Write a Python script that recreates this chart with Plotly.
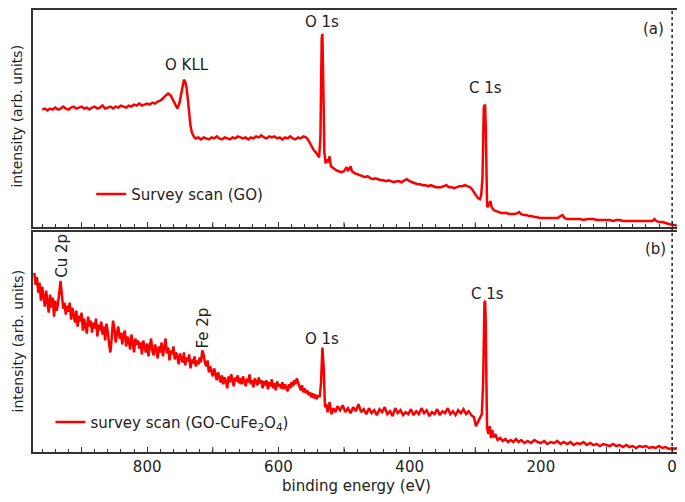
import plotly.graph_objects as go

# ---------------- data ----------------
# (a) Survey scan (GO): binding energy (eV) and intensity (arb. units)
go_energy = [960, 956, 952, 948, 944, 940, 936, 932, 928, 924, 920, 916, 912, 908, 904, 900,
             896, 892, 888, 884, 880, 876, 872, 868, 864, 860, 856, 852, 848, 844, 840, 836,
             832, 828, 824, 820, 816, 812, 808, 804, 800, 796, 792, 788, 784, 780, 776, 772,
             768, 764, 760, 757, 754, 751, 748, 746, 744, 742, 740, 738, 736, 734, 732, 729,
             726, 722, 718, 714, 710, 706, 702, 698, 694, 690, 686, 682, 678, 674, 670, 666,
             662, 658, 654, 650, 646, 642, 638, 634, 630, 626, 622, 618, 614, 610, 606, 602,
             598, 594, 590, 586, 582, 578, 574, 570, 566, 562, 558, 555, 552, 549, 546, 543,
             540, 538, 536, 535, 534, 533, 532, 531, 530, 528, 526, 524, 522, 520, 518, 515,
             512, 508, 504, 500, 496, 494, 492, 490, 488, 484, 480, 476, 472, 468, 464, 460,
             456, 452, 448, 444, 440, 436, 432, 428, 424, 420, 416, 412, 408, 404, 400, 396,
             392, 388, 384, 380, 376, 372, 368, 364, 360, 356, 352, 348, 344, 340, 336, 332,
             328, 324, 320, 316, 312, 308, 305, 302, 299, 296, 293, 291, 289, 288, 287, 286,
             285, 284, 283, 282, 281, 279, 277, 275, 272, 268, 264, 260, 256, 252, 248, 244,
             240, 236, 233, 230, 226, 222, 218, 214, 210, 206, 202, 198, 194, 190, 186, 182,
             178, 174, 170, 167, 164, 160, 155, 150, 145, 140, 135, 130, 125, 120, 115, 110,
             105, 100, 95, 90, 85, 80, 75, 70, 65, 60, 55, 50, 45, 40, 35, 30,
             27, 24, 20, 15, 10, 5, 0, -4, -7]
go_intensity = [118, 119, 117, 119, 118, 120, 118, 119, 121, 119, 118, 120, 121, 119, 120, 121,
                119, 120, 118, 120, 121, 119, 120, 122, 119, 120, 121, 119, 121, 120, 122, 121,
                120, 122, 121, 123, 122, 124, 122, 123, 124, 123, 125, 124, 126, 127, 129, 132,
                134, 132, 127, 122, 119, 124, 136, 144, 148, 146, 140, 128, 114, 102, 95, 91,
                89, 90, 88, 90, 89, 88, 90, 89, 91, 89, 88, 90, 89, 88, 90, 89,
                91, 90, 89, 90, 88, 90, 89, 91, 90, 92, 90, 89, 91, 90, 91, 89,
                90, 88, 90, 89, 91, 89, 88, 90, 89, 91, 90, 88, 84, 80, 77, 75,
                72, 70, 90, 150, 190, 194, 170, 120, 75, 64, 68, 65, 71, 61, 60, 58,
                57, 56, 55, 56, 60, 57, 58, 61, 56, 54, 53, 52, 51, 50, 51, 49,
                48, 49, 48, 47, 47, 46, 47, 46, 45, 46, 46, 45, 47, 48, 46, 45,
                44, 43, 43, 42, 42, 41, 42, 41, 40, 40, 40, 41, 42, 40, 40, 39,
                40, 41, 41, 42, 41, 40, 38, 35, 32, 29, 28, 32, 50, 90, 120, 122,
                122, 100, 50, 21, 20, 24, 26, 20, 17, 16, 15, 14, 14, 14, 13, 13,
                13, 14, 15, 13, 12, 12, 11, 11, 10, 10, 9, 9, 9, 9, 9, 9,
                9, 9, 11, 12, 9, 8, 8, 8, 8, 8, 7, 8, 8, 8, 7, 7,
                7, 7, 7, 6, 7, 7, 6, 6, 6, 6, 6, 6, 6, 6, 6, 6,
                8, 6, 5, 5, 4, 3, 2, 2, 1]

# (b) survey scan (GO-CuFe2O4): 2 eV sampling from 972 to 540 eV, then the listed energies
cufe_energy = list(range(972, 539, -2)) + [
    537, 535, 533, 531, 529, 527, 525, 522, 519, 516, 513, 510, 506, 502, 498, 494,
    490, 486, 482, 478, 474, 470, 466, 462, 458, 454, 450, 446, 442, 438, 434, 430,
    426, 422, 418, 414, 410, 406, 402, 398, 394, 390, 386, 382, 378, 374, 370, 366,
    362, 358, 354, 350, 346, 342, 338, 334, 330, 326, 322, 318, 314, 310, 306, 302,
    299, 296, 293, 290, 288, 287, 286, 285, 284, 283, 282, 280, 278, 276, 274, 272,
    269, 266, 262, 258, 254, 250, 246, 242, 238, 234, 230, 225, 220, 215, 210, 205,
    200, 195, 190, 185, 180, 175, 170, 165, 160, 155, 150, 145, 140, 135, 130, 125,
    120, 115, 110, 105, 100, 95, 90, 85, 80, 75, 70, 65, 60, 55, 50, 45,
    40, 35, 30, 25, 20, 15, 10, 5, 0, -4, -8]
cufe_intensity = [
    180, 168, 176, 160, 170, 152, 166, 158, 146, 162, 150, 140, 158, 145, 155, 136,
    152, 142, 148, 160, 172, 158, 144, 150, 138, 147, 141, 150, 133, 145, 138, 130,
    142, 126, 137, 131, 140, 122, 134, 128, 119, 136, 126, 132, 120, 130, 124, 134,
    116, 128, 122, 131, 118, 126, 112, 129, 121, 108, 100, 115, 132, 124, 110, 120,
    126, 114, 120, 108, 118, 122, 106, 116, 112, 103, 118, 110, 100, 114, 108, 112,
    104, 110, 98, 112, 104, 100, 109, 96, 106, 114, 101, 97, 108, 103, 94, 106,
    100, 110, 96, 104, 114, 99, 105, 92, 102, 98, 106, 93, 100, 96, 88, 99,
    94, 90, 100, 87, 95, 91, 98, 84, 93, 89, 96, 86, 92, 88, 95, 90,
    102, 98, 90, 86, 92, 80, 86, 82, 76, 84, 78, 72, 80, 74, 70, 77,
    68, 75, 71, 64, 76, 70, 78, 72, 66, 75, 71, 77, 69, 74, 68, 76,
    72, 66, 74, 70, 78, 68, 72, 65, 74, 70, 67, 75, 69, 72, 64, 71,
    67, 72, 63, 70, 66, 73, 64, 69, 62, 71, 66, 68, 64, 70, 63, 68,
    65, 61, 68, 64, 70, 66, 72, 68, 74, 70, 65, 62, 67, 60, 64, 59,
    62, 57, 60, 55, 59, 54, 58, 53, 56,
    56, 70, 105, 85, 45, 48, 40, 50, 38, 44, 40, 46, 42, 47, 40, 44,
    39, 45, 41, 48, 40, 43, 38, 44, 39, 42, 37, 43, 40, 45, 38, 41,
    36, 44, 39, 42, 37, 40, 38, 43, 37, 41, 38, 44, 39, 42, 36, 40,
    38, 43, 37, 41, 39, 44, 38, 41, 37, 42, 39, 43, 38, 41, 37, 35,
    26, 30, 34, 38, 70, 120, 150, 152, 130, 70, 24, 18, 26, 14, 22, 15,
    17, 12, 14, 11, 13, 10, 12, 10, 13, 10, 12, 9, 11, 9, 12, 10,
    9, 11, 8, 10, 9, 11, 8, 10, 8, 10, 7, 9, 8, 10, 7, 9,
    7, 8, 6, 8, 7, 6, 8, 6, 7, 5, 7, 5, 6, 4, 6, 5,
    6, 4, 5, 4, 6, 4, 5, 3, 4, 3, 4]

x_tick_values = [800, 600, 400, 200, 0]
x_tick_labels = ["800", "600", "400", "200", "0"]
x_mid_ticks = [900, 700, 500, 300, 100]

# ---------------- figure ----------------
# the page body adds an 8 px margin, so the figure is sized to fit the 685x502 window
RED = "rgb(250,0,0)"
FONT = "DejaVu Sans"
INK = "#222222"
fig = go.Figure()

fig.add_trace(go.Scatter(x=go_energy, y=go_intensity, mode="lines",
                         line=dict(color=RED, width=2.5), name="Survey scan (GO)",
                         xaxis="x", yaxis="y", legend="legend"))
fig.add_trace(go.Scatter(x=cufe_energy, y=cufe_intensity, mode="lines",
                         line=dict(color=RED, width=2.5),
                         name="survey scan (GO-CuFe<sub>2</sub>O<sub>4</sub>)",
                         xaxis="x2", yaxis="y2", legend="legend2"))

frame = dict(showline=True, linecolor="#333333", linewidth=1.5, mirror=True,
             showgrid=False, zeroline=False)
xcommon = dict(range=[974, -12], ticks="inside", ticklen=5, tickwidth=1, tickcolor="#333333",
               tickmode="array", tickvals=x_tick_values, ticktext=x_tick_labels,
               minor=dict(dtick=20, ticks="inside", ticklen=3, tickwidth=1, tickcolor="#333333"),
               **frame)

H = 444.0  # plot-area height in px
fig.update_layout(
    width=677, height=494,
    margin=dict(l=25, r=5, t=0, b=50),
    paper_bgcolor="white", plot_bgcolor="white",
    font=dict(family=FONT, size=15, color=INK),
    xaxis=dict(anchor="y", showticklabels=False, **xcommon),
    yaxis=dict(domain=[(452 - 226) / H, 1.0], range=[0, 218], showticklabels=False, ticks="",
               **frame),
    xaxis2=dict(anchor="y2", matches="x",
                tickfont=dict(family=FONT, size=15, color=INK),
                title=dict(text="binding energy (eV)", standoff=6,
                           font=dict(family=FONT, size=15, color=INK)),
                **xcommon),
    yaxis2=dict(domain=[0.0, 221 / H], range=[0, 221], showticklabels=False, ticks="", **frame),
    legend=dict(x=0.09, y=(452 - 193) / H, xanchor="left", yanchor="middle",
                bgcolor="rgba(0,0,0,0)", font=dict(family=FONT, size=15, color=INK)),
    legend2=dict(x=0.027, y=(452 - 422) / H, xanchor="left", yanchor="middle",
                 bgcolor="rgba(0,0,0,0)", font=dict(family=FONT, size=15, color=INK)),
    showlegend=True,
)

# longer ticks at the unlabeled 100 eV positions (bottom of each panel)
for yr in ["y domain", "y2 domain"]:
    for xv in x_mid_ticks:
        fig.add_shape(type="line", xref="x", yref=yr, x0=xv, x1=xv, y0=0, y1=5 / 220,
                      line=dict(color="#333333", width=1))

# dotted vertical line at 0 eV across both panels
fig.add_shape(type="line", xref="x", yref="paper", x0=0, x1=0, y0=0, y1=1,
              line=dict(color=INK, width=1.5, dash="dot"))

ann_font = dict(family=FONT, size=15, color=INK)
labels_a = [("O KLL", 739, 163), ("O 1s", 533, 206), ("C 1s", 285, 140), ("(a)", 29, 199)]
for t, xv, yv in labels_a:
    fig.add_annotation(text=t, x=xv, y=yv, xref="x", yref="y", showarrow=False, font=ann_font)
labels_b = [("O 1s", 533, 114, 0), ("C 1s", 282, 159, 0), ("(b)", 26, 204, 0),
            ("Cu 2p", 930, 197, -90), ("Fe 2p", 715, 125, -90)]
for t, xv, yv, ang in labels_b:
    fig.add_annotation(text=t, x=xv, y=yv, xref="x2", yref="y2", showarrow=False,
                       textangle=ang, font=ann_font)

# y-axis titles
for yc in [(452 - 115) / H, (452 - 341) / H]:
    fig.add_annotation(text="intensity (arb. units)", xref="paper", yref="paper",
                       x=-25 / 647, y=yc, textangle=-90, showarrow=False,
                       xanchor="left", yanchor="middle", borderpad=0,
                       font=dict(family=FONT, size=14, color=INK))

fig.write_html("out.html")
